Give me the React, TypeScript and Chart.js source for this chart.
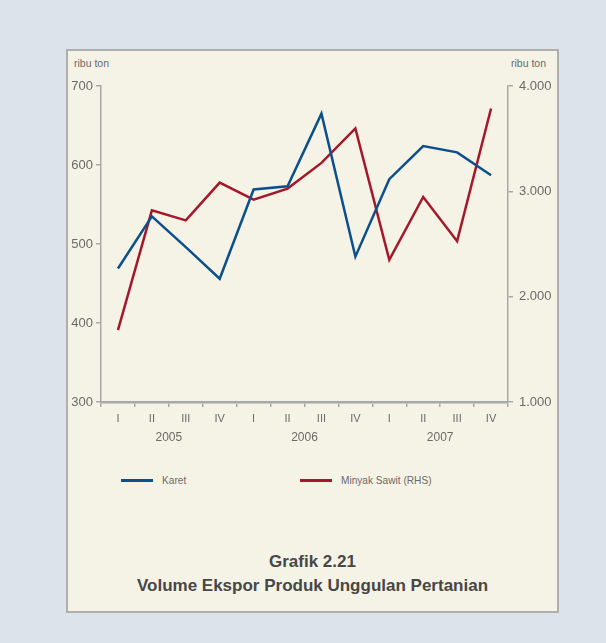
import React, { useEffect, useRef } from "react";
import { Chart, registerables } from "chart.js";

Chart.register(...registerables);

// Quarterly export volumes, 2005–2007
const quarters = ["I", "II", "III", "IV", "I", "II", "III", "IV", "I", "II", "III", "IV"];
const years = ["2005", "2006", "2007"];
const karet = [469, 535, 496, 456, 569, 573, 665, 484, 582, 624, 616, 587];
const minyakSawit = [1683, 2819, 2724, 3083, 2921, 3026, 3270, 3597, 2350, 2946, 2527, 3787];
const leftTicks = [300, 400, 500, 600, 700];
const rightTicks = [1000, 2000, 3000, 4000];

const FONT = "'Liberation Sans', Arial, sans-serif";
const AXIS = "#a8a8a8";
const TEXT = "#6a6a6a";
const BLUE = "#0b4f8c";
const RED = "#a5182b";

const fmtThousands = (v: number) =>
  v.toString().replace(/\B(?=(\d{3})+(?!\d))/g, ".");

const yearLabels = {
  id: "yearLabels",
  afterDraw(chart: any) {
    const x = chart.scales.x;
    const ctx = chart.ctx;
    const y = chart.chartArea.bottom + 36;
    ctx.save();
    ctx.fillStyle = TEXT;
    ctx.font = `12px ${FONT}`;
    ctx.textAlign = "center";
    ctx.textBaseline = "middle";
    years.forEach((yr, i) => {
      const a = x.getPixelForValue(i * 4 + 1);
      const b = x.getPixelForValue(i * 4 + 2);
      ctx.fillText(yr, (a + b) / 2, y);
    });
    ctx.restore();
  },
};

export default function App() {
  const ref = useRef<HTMLCanvasElement>(null);

  useEffect(() => {
    if (!ref.current) return;
    const chart = new Chart(ref.current, {
      type: "line",
      data: {
        labels: quarters,
        datasets: [
          {
            label: "Karet",
            data: karet,
            borderColor: BLUE,
            borderWidth: 2.5,
            pointRadius: 0,
            tension: 0,
            yAxisID: "y",
          },
          {
            label: "Minyak Sawit (RHS)",
            data: minyakSawit,
            borderColor: RED,
            borderWidth: 2.5,
            pointRadius: 0,
            tension: 0,
            yAxisID: "y1",
          },
        ],
      },
      options: {
        animation: false,
        responsive: false,
        maintainAspectRatio: false,
        layout: { padding: { top: 16, left: 0, right: 0, bottom: 0 } },
        plugins: {
          legend: { display: false },
          tooltip: { enabled: false },
          title: { display: false },
        },
        scales: {
          x: {
            type: "category",
            offset: true,
            grid: {
              display: true,
              offset: true,
              drawOnChartArea: false,
              drawTicks: true,
              tickLength: 5,
              color: AXIS,
              lineWidth: 1.5,
            },
            border: { display: true, color: AXIS, width: 2.5 },
            ticks: {
              color: TEXT,
              font: { family: FONT, size: 11 },
              padding: 5,
              maxRotation: 0,
              autoSkip: false,
            },
            afterFit(scale: any) {
              scale.height = 58;
            },
          },
          y: {
            type: "linear",
            position: "left",
            min: 300,
            max: 700,
            afterBuildTicks(scale: any) {
              scale.ticks = leftTicks.map((v) => ({ value: v }));
            },
            grid: {
              display: true,
              drawOnChartArea: false,
              drawTicks: true,
              tickLength: 5,
              color: AXIS,
              lineWidth: 1.5,
            },
            border: { display: true, color: AXIS, width: 1.5 },
            ticks: {
              color: TEXT,
              font: { family: FONT, size: 13 },
              padding: 3,
              callback: (v: any) => String(v),
            },
            afterFit(scale: any) {
              scale.width = 31;
            },
          },
          y1: {
            type: "linear",
            position: "right",
            min: 1000,
            max: 4000,
            afterBuildTicks(scale: any) {
              scale.ticks = rightTicks.map((v) => ({ value: v }));
            },
            grid: {
              display: true,
              drawOnChartArea: false,
              drawTicks: true,
              tickLength: 5,
              color: AXIS,
              lineWidth: 1.5,
            },
            border: { display: true, color: AXIS, width: 1.5 },
            ticks: {
              color: TEXT,
              font: { family: FONT, size: 13 },
              padding: 6,
              callback: (v: any) => fmtThousands(Number(v)),
            },
            afterFit(scale: any) {
              scale.width = 47;
            },
          },
        },
      },
      plugins: [yearLabels],
    });
    return () => chart.destroy();
  }, []);

  const small: React.CSSProperties = {
    position: "absolute",
    fontFamily: FONT,
    color: TEXT,
    fontSize: 10.5,
    lineHeight: "12px",
    whiteSpace: "nowrap",
  };

  const legendText: React.CSSProperties = {
    ...small,
    fontSize: 11,
    transform: "scaleX(0.92)",
    transformOrigin: "left center",
  };

  return (
    <div
      style={{
        position: "fixed",
        left: 0,
        top: 0,
        width: 606,
        height: 643,
        background: "#dce3eb",
        overflow: "hidden",
      }}
    >
      <div
        style={{
          position: "absolute",
          left: 66,
          top: 49,
          width: 489,
          height: 560,
          background: "#f5f3e5",
          border: "2px solid #aeaeae",
        }}
      />
      <div style={{ ...small, left: 74, top: 57 }}>ribu ton</div>
      <div style={{ ...small, left: 511, top: 57 }}>ribu ton</div>
      <canvas
        ref={ref}
        width={485}
        height={390}
        style={{ position: "absolute", left: 70, top: 70, width: 485, height: 390 }}
      />
      <div style={{ position: "absolute", left: 121, top: 479, width: 32, height: 3, background: BLUE }} />
      <div style={{ ...legendText, left: 162, top: 474 }}>Karet</div>
      <div style={{ position: "absolute", left: 300, top: 479, width: 32, height: 3, background: RED }} />
      <div style={{ ...legendText, left: 341, top: 474 }}>Minyak Sawit (RHS)</div>
      <div
        style={{
          position: "absolute",
          left: 68,
          width: 489,
          top: 550,
          textAlign: "center",
          fontFamily: FONT,
          fontWeight: "bold",
          fontSize: 17,
          lineHeight: "24px",
          color: "#474747",
        }}
      >
        <div>Grafik 2.21</div>
        <div>Volume Ekspor Produk Unggulan Pertanian</div>
      </div>
    </div>
  );
}
